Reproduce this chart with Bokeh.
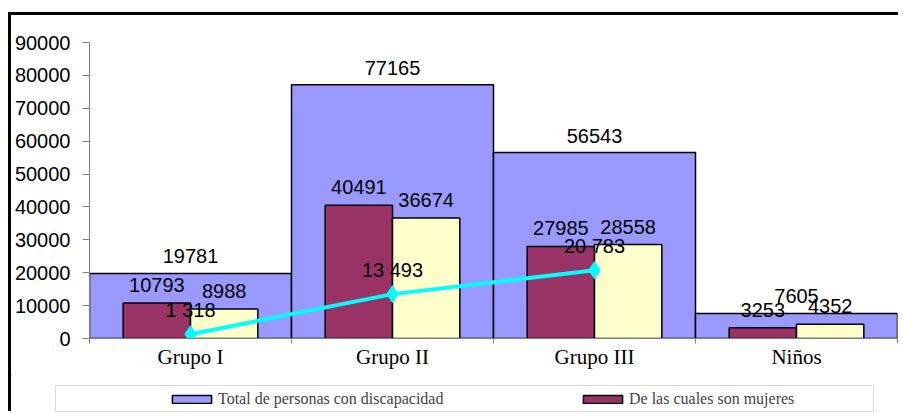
from bokeh.plotting import figure
from bokeh.models import (ColumnDataSource, FixedTicker, Range1d, Legend, LegendItem,
                          BoxAnnotation)
from bokeh.layouts import column
from bokeh.transform import dodge
from bokeh.embed import file_html
from bokeh.resources import INLINE
from bokeh.core.properties import value

# ---------------- data ----------------
categories = ["Grupo I", "Grupo II", "Grupo III", "Niños"]
total = [19781, 77165, 56543, 7605]
mujeres = [10793, 40491, 27985, 3253]
hombres = [8988, 36674, 28558, 4352]
linea_cats = ["Grupo I", "Grupo II", "Grupo III"]
linea = [1318, 13493, 20783]
y_ticks = [0, 10000, 20000, 30000, 40000, 50000, 60000, 70000, 80000, 90000]
legend_labels = ["Total de personas con discapacidad", "De las cuales son mujeres"]

C_TOTAL = "#9999FF"
C_MUJ = "#993366"
C_HOM = "#FFFFCC"
C_LINE = "#00FFFF"
SANS = "Liberation Sans"
SERIF = "Liberation Serif"

centers = [i + 0.5 for i in range(len(categories))]
bounds = [float(i) for i in range(len(categories) + 1)]

src = ColumnDataSource(dict(
    x=centers, total=total, mujeres=mujeres, hombres=hombres,
    total_lbl=[str(v) for v in total],
    muj_lbl=[str(v) for v in mujeres],
    hom_lbl=[str(v) for v in hombres],
))
line_src = ColumnDataSource(dict(
    x=[categories.index(c) + 0.5 for c in linea_cats],
    y=linea,
    lbl=[format(v, ",").replace(",", " ") for v in linea],
))

W = 890
BL, BR = 78, 4
p = figure(width=W, height=360, x_range=Range1d(0, len(categories)),
           y_range=Range1d(0, 90000), output_backend="svg", toolbar_location=None,
           min_border_left=BL, min_border_right=BR, min_border_top=27,
           min_border_bottom=37)
p.frame_align = False
p.xgrid.visible = False
p.ygrid.visible = False
p.outline_line_color = None
p.background_fill_color = "white"

# bars
p.vbar(x="x", top="total", width=1.0, bottom=0, source=src,
       fill_color=C_TOTAL, line_color="black", line_width=1.5)
p.vbar(x=dodge("x", -1 / 6, range=p.x_range), top="mujeres", width=1 / 3, source=src,
       fill_color=C_MUJ, line_color="black", line_width=1.5)
p.vbar(x=dodge("x", 1 / 6, range=p.x_range), top="hombres", width=1 / 3, source=src,
       fill_color=C_HOM, line_color="black", line_width=1.5)

# line
p.line(x="x", y="y", source=line_src, line_color=C_LINE, line_width=4)
p.scatter(x="x", y="y", source=line_src, marker="diamond", size=17,
          fill_color=C_LINE, line_color=C_LINE)

# data labels
common = dict(text_font=value(SANS), text_font_size="20px", text_color="black",
              text_align="center", text_baseline="middle")
p.text(x="x", y="total", text="total_lbl", source=src, y_offset=-17, **common)
p.text(x=dodge("x", -1 / 6, range=p.x_range), y="mujeres", text="muj_lbl", source=src,
       y_offset=-18, **common)
p.text(x=dodge("x", 1 / 6, range=p.x_range), y="hombres", text="hom_lbl", source=src,
       y_offset=-18, **common)
p.text(x="x", y="y", text="lbl", source=line_src, y_offset=-24, **common)

# y axis
ya = p.yaxis[0]
ya.ticker = FixedTicker(ticks=y_ticks, minor_ticks=[])
ya.major_label_overrides = {t: str(t) for t in y_ticks}
ya.axis_line_color = "#808080"
ya.major_tick_line_color = "#808080"
ya.major_tick_out = 7
ya.major_tick_in = 0
ya.minor_tick_line_color = None
ya.major_label_standoff = 12
ya.major_label_text_font = SANS
ya.major_label_text_font_size = "20px"
ya.major_label_text_color = "black"

# x axis
xa = p.xaxis[0]
xa.ticker = FixedTicker(ticks=centers, minor_ticks=bounds)
xa.major_label_overrides = {c: lab for c, lab in zip(centers, categories)}
xa.axis_line_color = "#808080"
xa.major_tick_line_color = None
xa.major_tick_out = 0
xa.major_tick_in = 0
xa.minor_tick_line_color = "#808080"
xa.minor_tick_out = 5
xa.minor_tick_in = 0
xa.major_label_standoff = 1
xa.major_label_text_font = SERIF
xa.major_label_text_font_size = "21px"
xa.major_label_text_color = "black"

# ---------------- legend strip ----------------
# its own frame covers the whole strip; data units = page pixels - 11
LH = 39
p2 = figure(width=W, height=LH, x_range=Range1d(0, W), y_range=Range1d(LH, 0),
            output_backend="svg", toolbar_location=None, x_axis_type=None,
            y_axis_type=None, min_border=0)
p2.frame_align = False
p2.xgrid.visible = False
p2.ygrid.visible = False
p2.outline_line_color = None

# off-screen proxies so that the legend has glyphs to draw
r1 = p2.vbar(x=[-1000], top=[0], width=1, fill_color=C_TOTAL, line_color="black", line_width=1.5)
r2 = p2.vbar(x=[-1000], top=[0], width=1, fill_color=C_MUJ, line_color="black", line_width=1.5)

p2.add_layout(BoxAnnotation(left=44, right=862, top=10, bottom=36, fill_alpha=0,
                            line_color="#808080", line_width=1))

legend = Legend(items=[LegendItem(label=legend_labels[0], renderers=[r1]),
                       LegendItem(label=legend_labels[1], renderers=[r2])],
                orientation="horizontal", location=(156, 6),
                glyph_width=49, glyph_height=10, label_standoff=2, spacing=0,
                label_width=360, label_height=8, padding=0, margin=0,
                border_line_alpha=0, background_fill_alpha=0,
                label_text_font=SERIF, label_text_font_size="16px")
p2.add_layout(legend)

layout = column(p, p2, spacing=0,
                styles={"margin-top": "15px", "margin-left": "11px",
                        "box-shadow": "-3px -3px 0 0 black"})

open("out.html", "w").write(file_html(layout, INLINE))
